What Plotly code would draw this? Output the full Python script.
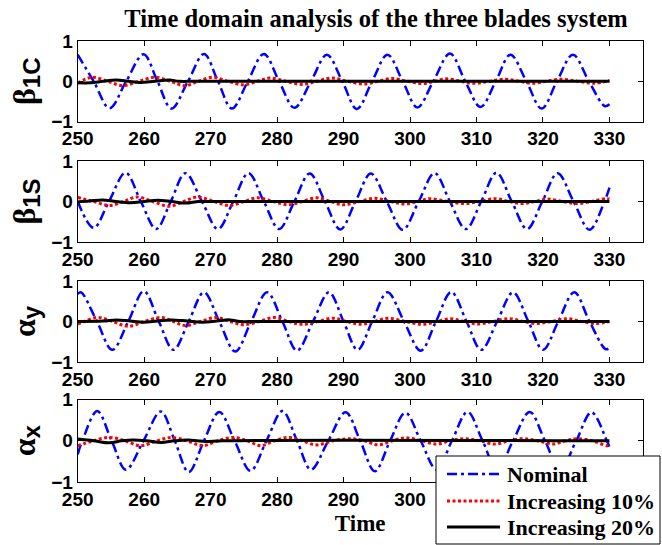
import plotly.graph_objects as go

# ---------------- data ----------------
x_ticks = [250, 260, 270, 280, 290, 300, 310, 320, 330]
y_ticks = [-1, 0, 1]
panel_titles = ["β", "β", "α", "α"]
panel_subs = ["1C", "1S", "y", "x"]
series_names = ["Nominal", "Increasing 10%", "Increasing 20%"]

# Panel 1 (beta_1C)
t_nom1 = [250.0, 252.4, 254.8, 257.3, 259.9, 262.0, 264.1, 266.6, 269.0, 271.1, 273.2, 275.6, 278.0, 280.3,
          282.6, 285.1, 287.5, 289.8, 292.0, 294.3, 296.6, 298.9, 301.1, 303.5, 306.0, 308.3, 310.6, 312.9,
          315.1, 317.5, 319.8, 322.1, 324.5, 326.9, 329.3, 330.0]
y_nom1 = [0.66, 0.0, -0.67, 0.0, 0.67, 0.0, -0.68, 0.0, 0.68, 0.0, -0.68, 0.0, 0.68, 0.0,
          -0.66, 0.0, 0.66, 0.0, -0.69, 0.0, 0.66, 0.0, -0.65, 0.0, 0.69, 0.0, -0.64, 0.0,
          0.66, 0.0, -0.68, 0.0, 0.66, 0.0, -0.62, -0.57]
t_r1 = [250.0, 252.2, 254.5, 256.8, 259.2, 261.6, 263.9, 266.1, 268.2, 270.3, 272.6, 275.0, 277.0, 278.9,
        281.3, 283.8, 286.0, 288.2, 290.6, 293.1, 295.2, 297.3, 299.6, 301.9, 303.7, 305.5, 307.6, 309.7,
        312.0, 314.4, 316.4, 318.5, 320.5, 322.6, 325.2, 327.8, 330.0]
y_r1 = [-0.05, 0.10, 0.0, -0.11, 0.0, 0.10, 0.0, -0.11, 0.0, 0.10, 0.0, -0.09, 0.0, 0.08,
        0.0, -0.08, 0.0, 0.08, 0.0, -0.07, 0.0, 0.07, 0.0, -0.06, 0.0, 0.06, 0.0, -0.05,
        0.0, 0.05, 0.0, -0.05, 0.0, 0.05, 0.0, -0.05, 0.02]
t_b1 = [250.0, 252.0, 253.8, 255.8, 257.6, 259.4, 261.6, 263.8, 265.2, 268.0, 330.0]
y_b1 = [-0.04, -0.04, 0.0, 0.03, 0.0, -0.03, 0.0, 0.03, 0.0, 0.0, 0.0]

# Panel 2 (beta_1S)
t_nom2 = [250.0, 252.4, 254.7, 257.2, 259.5, 261.8, 264.0, 266.2, 268.7, 271.1, 273.4, 275.7, 278.0, 280.3,
          282.6, 284.9, 287.2, 289.5, 291.8, 294.1, 296.5, 298.9, 301.3, 303.7, 306.0, 308.4, 310.7, 313.0,
          315.3, 317.6, 319.9, 322.2, 324.6, 327.0, 329.25, 330.0]
y_nom2 = [0.0, -0.65, 0.0, 0.71, 0.0, -0.68, 0.0, 0.70, 0.0, -0.68, 0.0, 0.70, 0.0, -0.68,
          0.0, 0.69, 0.0, -0.69, 0.0, 0.69, 0.0, -0.70, 0.0, 0.70, 0.0, -0.68, 0.0, 0.71,
          0.0, -0.68, 0.0, 0.70, 0.0, -0.70, 0.0, 0.34]
t_r2 = [250.0, 252.4, 254.8, 256.9, 258.9, 261.3, 263.8, 265.9, 268.0, 270.5, 272.9, 275.0, 277.0, 279.4,
        281.7, 283.8, 285.9, 288.0, 290.0, 292.4, 294.7, 297.0, 299.3, 301.2, 303.0, 305.6, 308.1, 310.5,
        312.8, 314.9, 316.9, 318.8, 320.6, 322.9, 325.2, 327.3, 329.4, 330.0]
y_r2 = [0.10, 0.0, -0.10, 0.0, 0.11, 0.0, -0.12, 0.0, 0.11, 0.0, -0.10, 0.0, 0.09, 0.0,
        -0.08, 0.0, 0.09, 0.0, -0.08, 0.0, 0.08, 0.0, -0.06, 0.0, 0.07, 0.0, -0.05, 0.0,
        0.07, 0.0, -0.05, 0.0, 0.06, 0.0, -0.05, 0.0, 0.07, 0.06]
t_b2 = [250.0, 251.8, 253.7, 255.8, 257.9, 260.0, 262.0, 264.1, 266.2, 268.2, 270.0, 330.0]
y_b2 = [-0.01, 0.01, 0.04, 0.0, -0.03, 0.0, 0.03, 0.0, -0.04, 0.0, 0.0, 0.0]

# Panel 3 (alpha_y)
t_nom3 = [250.0, 250.5, 252.9, 255.2, 257.6, 259.95, 262.2, 264.4, 266.7, 269.0, 271.3, 273.7, 276.1, 278.5,
          280.8, 283.0, 285.4, 287.8, 290.0, 292.1, 294.3, 296.6, 299.1, 301.6, 303.9, 306.2, 308.5, 310.7,
          313.1, 315.5, 317.8, 320.0, 322.3, 324.7, 327.0, 329.4, 330.0]
y_nom3 = [0.68, 0.72, 0.0, -0.70, 0.0, 0.75, 0.0, -0.70, 0.0, 0.72, 0.0, -0.74, 0.0, 0.72,
          0.0, -0.72, 0.0, 0.72, 0.0, -0.70, 0.0, 0.72, 0.0, -0.72, 0.0, 0.73, 0.0, -0.70,
          0.0, 0.72, 0.0, -0.70, 0.0, 0.72, 0.0, -0.68, -0.66]
t_r3 = [250.0, 251.0, 253.0, 255.3, 257.6, 260.0, 262.5, 264.4, 266.2, 268.5, 270.8, 272.9, 275.0, 277.3,
        279.6, 281.7, 283.8, 286.1, 288.4, 290.5, 292.6, 294.6, 296.7, 299.3, 301.9, 304.0, 306.1, 308.1,
        310.2, 312.5, 314.9, 317.0, 319.0, 321.3, 323.7, 325.8, 327.8, 330.0]
y_r3 = [-0.06, 0.0, 0.10, 0.0, -0.12, 0.0, 0.10, 0.0, -0.10, 0.0, 0.10, 0.0, -0.08, 0.0,
        0.10, 0.0, -0.07, 0.0, 0.08, 0.0, -0.07, 0.0, 0.08, 0.0, -0.07, 0.0, 0.07, 0.0,
        -0.06, 0.0, 0.07, 0.0, -0.05, 0.0, 0.07, 0.0, -0.05, 0.0]
t_b3 = [250.0, 253.8, 255.8, 257.9, 259.9, 262.0, 264.1, 266.5, 268.8, 270.9, 272.9, 274.4, 277.0, 330.0]
y_b3 = [0.0, 0.01, 0.04, 0.01, -0.02, 0.01, 0.04, 0.01, -0.02, 0.01, 0.04, 0.0, 0.0, 0.0]

# Panel 4 (alpha_x)
t_nom4 = [250.0, 250.7, 252.95, 255.1, 257.25, 259.9, 262.5, 264.6, 266.7, 269.0, 271.3, 273.6, 276.0, 278.4,
          280.8, 283.0, 285.1, 287.7, 290.3, 292.5, 294.7, 297.0, 299.3, 301.6, 304.0, 306.3, 308.65, 310.9,
          313.1, 315.5, 318.0, 320.3, 322.6, 325.0, 327.3, 329.6, 330.0]
y_nom4 = [-0.33, 0.0, 0.72, 0.0, -0.70, 0.0, 0.71, 0.0, -0.76, 0.0, 0.70, 0.0, -0.73, 0.0,
          0.72, 0.0, -0.70, 0.0, 0.69, 0.0, -0.74, 0.0, 0.68, 0.0, -0.70, 0.0, 0.70, 0.0,
          -0.70, 0.0, 0.70, 0.0, -0.70, 0.0, 0.69, 0.0, -0.15]
t_r4 = [250.0, 252.4, 254.8, 257.1, 259.4, 262.0, 264.1, 266.4, 268.8, 271.1, 273.4, 275.5, 277.6, 279.6,
        281.7, 283.8, 285.9, 288.4, 291.0, 293.1, 295.2, 297.3, 299.3, 301.7, 304.0, 306.0, 308.1, 310.4,
        312.8, 314.9, 316.9, 319.2, 321.6, 323.4, 325.2, 327.4, 329.6, 330.0]
y_r4 = [-0.12, 0.0, 0.08, 0.0, -0.12, 0.0, 0.08, 0.0, -0.12, 0.0, 0.08, 0.0, -0.12, 0.0,
        0.08, 0.0, -0.10, 0.0, 0.05, 0.0, -0.10, 0.0, 0.07, 0.0, -0.08, 0.0, 0.05, 0.0,
        -0.08, 0.0, 0.05, 0.0, -0.08, 0.0, 0.05, 0.0, -0.12, -0.11]
t_b4 = [250.0, 252.4, 254.8, 256.6, 258.4, 260.4, 262.5, 264.6, 266.7, 268.0, 269.3, 271.9, 330.0]
y_b4 = [0.04, 0.0, -0.05, 0.0, 0.02, 0.0, -0.04, 0.0, 0.02, 0.0, -0.02, 0.0, 0.0]

panels = [
    (t_nom1, y_nom1, t_r1, y_r1, t_b1, y_b1),
    (t_nom2, y_nom2, t_r2, y_r2, t_b2, y_b2),
    (t_nom3, y_nom3, t_r3, y_r3, t_b3, y_b3),
    (t_nom4, y_nom4, t_r4, y_r4, t_b4, y_b4),
]

# ---------------- layout geometry ----------------
W, H = 662, 545
x_dom = [77.7 / W, 642.7 / W]
panel_px = [(41, 121.5), (161, 242), (281, 362), (399.5, 482)]
y_doms = [[1 - b / H, 1 - t / H] for t, b in panel_px]

styles = [
    dict(color="rgb(0,0,255)", width=2.5, dash="10px,4px,3px,4px"),
    dict(color="rgb(255,0,0)", width=3, dash="3px,2.5px"),
    dict(color="black", width=3, dash="solid"),
]

fig = go.Figure()
for i, p in enumerate(panels):
    xa = "x" if i == 0 else f"x{i+1}"
    ya = "y" if i == 0 else f"y{i+1}"
    for k in range(3):
        fig.add_trace(go.Scatter(
            x=p[2 * k], y=p[2 * k + 1], mode="lines",
            line=dict(shape="spline", smoothing=1.0, **styles[k]),
            name=series_names[k], showlegend=False, xaxis=xa, yaxis=ya,
        ))

tick_font = dict(family="Liberation Sans, Arial", size=19, color="black", weight="bold")
axis_common = dict(showline=True, linecolor="black", linewidth=1, mirror="ticks",
                   ticks="inside", ticklen=5, tickcolor="black", showgrid=False,
                   zeroline=False, tickfont=tick_font, automargin=False)

layout = {}
for i in range(4):
    xk = "xaxis" if i == 0 else f"xaxis{i+1}"
    yk = "yaxis" if i == 0 else f"yaxis{i+1}"
    ya = "y" if i == 0 else f"y{i+1}"
    xa = "x" if i == 0 else f"x{i+1}"
    label = (f"<span style='font-family:Liberation Serif;font-size:32px'>{panel_titles[i]}</span>"
             f"<sub><span style='font-size:24px'>{panel_subs[i]}</span></sub>")
    layout[xk] = dict(domain=x_dom, range=[250, 335], tickvals=x_ticks, anchor=ya, **axis_common)
    layout[yk] = dict(domain=y_doms[i], range=[-1, 1], tickvals=y_ticks, anchor=xa,
                      title=dict(text=label, standoff=8,
                                 font=dict(family="Liberation Sans, Arial", size=26,
                                           color="black", weight="bold")),
                      **axis_common)
layout["xaxis4"]["title"] = dict(text="Time", standoff=6,
                                 font=dict(family="Liberation Serif, Times New Roman", size=23,
                                           color="black", weight="bold"))

# manual legend box (placed like the reference's legend)
leg_x0, leg_x1, leg_y0, leg_y1 = 436, 660, 456, 544
leg_rows = [474, 501, 527]
shapes = [dict(type="rect", xref="paper", yref="paper",
               x0=leg_x0 / W, x1=leg_x1 / W, y0=1 - leg_y1 / H, y1=1 - leg_y0 / H,
               line=dict(color="black", width=1), fillcolor="white", layer="above")]
annotations = []
for k, yy in enumerate(leg_rows):
    st = styles[k]
    shapes.append(dict(type="line", xref="paper", yref="paper",
                       x0=447 / W, x1=500 / W, y0=1 - yy / H, y1=1 - yy / H,
                       line=dict(color=st["color"], width=st["width"], dash=st["dash"]),
                       layer="above"))
    annotations.append(dict(text=series_names[k], xref="paper", yref="paper",
                            x=505 / W, y=1 - yy / H, xanchor="left", yanchor="middle",
                            showarrow=False,
                            font=dict(family="Liberation Serif, Times New Roman", size=22,
                                      color="black", weight="bold")))

fig.update_layout(**layout)
fig.update_layout(
    width=W, height=H,
    margin=dict(l=0, r=0, t=0, b=0),
    paper_bgcolor="white", plot_bgcolor="white",
    title=dict(text="Time domain analysis of the three blades system",
               x=376 / W, xanchor="center", y=1 - 18 / H, yanchor="middle",
               font=dict(family="Liberation Serif, Times New Roman", size=24.5,
                         color="black", weight="bold")),
    shapes=shapes, annotations=annotations,
    showlegend=False,
)

fig.write_html("out.html")
